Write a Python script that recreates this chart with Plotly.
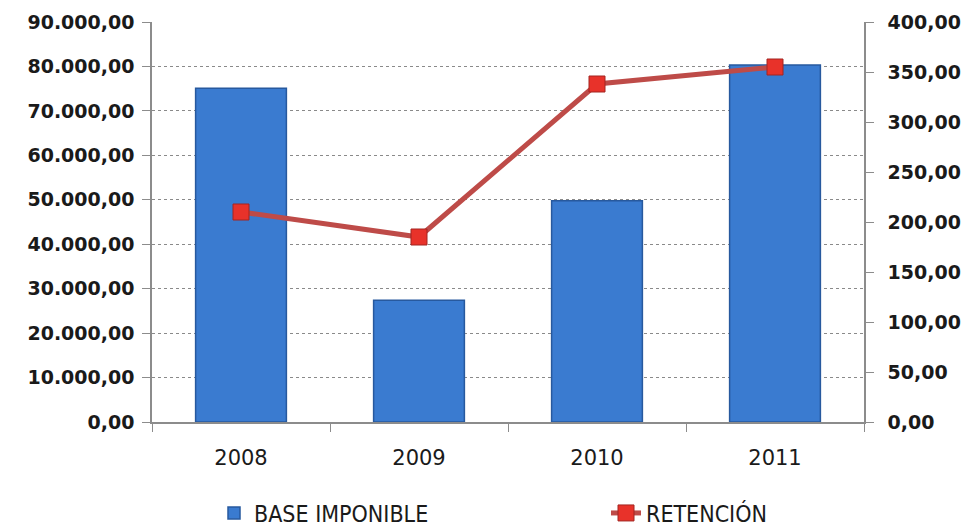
import plotly.graph_objects as go

years = ["2008", "2009", "2010", "2011"]
base_imponible = [75100, 27400, 49800, 80300]
retencion = [210, 185, 338, 355]
left_ticks = [0, 10000, 20000, 30000, 40000, 50000, 60000, 70000, 80000, 90000]
left_labels = ["0,00", "10.000,00", "20.000,00", "30.000,00", "40.000,00",
               "50.000,00", "60.000,00", "70.000,00", "80.000,00", "90.000,00"]
right_ticks = [0, 50, 100, 150, 200, 250, 300, 350, 400]
right_labels = ["0,00", "50,00", "100,00", "150,00", "200,00", "250,00",
                "300,00", "350,00", "400,00"]

# page body has an 8px margin, so the figure is offset by 8px
OFF = 8
W, H = 970 - OFF, 530 - OFF
ml, mt = 152 - OFF, 22 - OFF
pw, ph = 712, 400
mr, mb = W - ml - pw, H - mt - ph

fig = go.Figure()
fig.add_trace(go.Bar(
    x=years, y=base_imponible, name="BASE IMPONIBLE",
    marker=dict(color="#3A7BD0", line=dict(color="#27599E", width=1.5)),
    width=0.51, yaxis="y", legend="legend",
))
fig.add_trace(go.Scatter(
    x=years, y=retencion, name="RETENCIÓN", yaxis="y2",
    mode="lines+markers",
    line=dict(color="#BE4B48", width=5),
    marker=dict(symbol="square", size=16, color="#E8322A",
                line=dict(color="#A32520", width=1)),
    legend="legend2",
))

axis_font = dict(family="DejaVu Sans", size=19, color="#1a1a1a", weight="bold")
leg_font = dict(family="Liberation Sans Narrow, DejaVu Sans Condensed, sans-serif",
                size=23, color="#1a1a1a")
leg_y = -(513 - 422) / ph

fig.update_layout(
    width=W, height=H,
    margin=dict(l=ml, r=mr, t=mt, b=mb, autoexpand=False),
    paper_bgcolor="white", plot_bgcolor="white",
    showlegend=True,
    legend=dict(
        orientation="h", x=(214 - 152) / pw, xanchor="left",
        y=leg_y, yanchor="middle", font=leg_font, bgcolor="rgba(0,0,0,0)",
    ),
    legend2=dict(
        orientation="h", x=(606 - 152) / pw, xanchor="left",
        y=leg_y, yanchor="middle", font=leg_font, bgcolor="rgba(0,0,0,0)",
    ),
    xaxis=dict(
        type="category", showline=True, linecolor="#8c8c8c", linewidth=1.5,
        ticks="outside", tickson="boundaries", ticklen=8, tickcolor="#8c8c8c",
        tickfont=dict(family="DejaVu Sans", size=21, color="#1a1a1a"),
        ticklabelstandoff=16,
        showgrid=False, range=[-0.5, 3.5], automargin=False,
    ),
    yaxis=dict(
        range=[0, 90000], tickvals=left_ticks, ticktext=left_labels,
        showline=True, linecolor="#8c8c8c", linewidth=1.5,
        ticks="outside", ticklen=8, tickcolor="#8c8c8c",
        showgrid=True, gridcolor="#8a8a8a", griddash="dot", gridwidth=1,
        tickfont=axis_font, zeroline=False, automargin=False,
        ticklabelstandoff=4,
    ),
    yaxis2=dict(
        range=[0, 400], tickvals=right_ticks, ticktext=right_labels,
        overlaying="y", side="right",
        showline=True, linecolor="#8c8c8c", linewidth=1.5,
        ticks="outside", ticklen=8, tickcolor="#8c8c8c",
        showgrid=False, zeroline=False, tickfont=axis_font, automargin=False,
        ticklabelstandoff=10,
    ),
)

fig.write_html("out.html")
